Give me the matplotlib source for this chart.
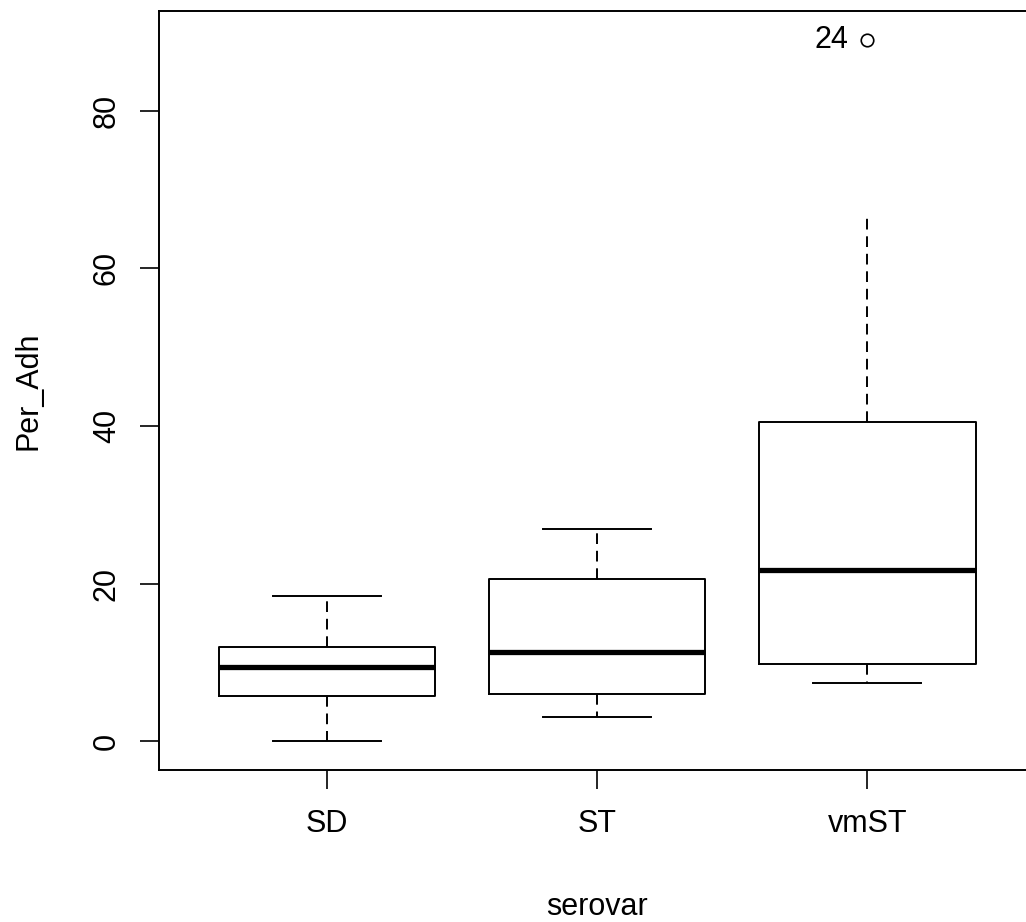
import matplotlib
matplotlib.use('Agg')
import matplotlib.pyplot as plt

plt.rcParams['font.family'] = ['Liberation Sans', 'DejaVu Sans']

# Dane
groups = ['SD', 'ST', 'vmST']
whisker_low = [0.0, 3.15, 7.45]
q1 = [5.7, 6.05, 9.8]
medians = [9.5, 11.3, 21.8]
q3 = [12.0, 20.6, 40.5]
whisker_high = [18.5, 26.9, 67.0]
outliers = [[], [], [89.0]]
outlier_labels = [[], [], ['24']]

stats = []
for i, name in enumerate(groups):
    stats.append(dict(label=name, whislo=whisker_low[i], q1=q1[i], med=medians[i],
                      q3=q3[i], whishi=whisker_high[i], fliers=outliers[i]))

fig = plt.figure(figsize=(10.26, 9.22), dpi=100)
ax = fig.add_axes([0.155, 0.1654, 0.8538, 0.8223])

lw = 1.4
res = ax.bxp(stats, positions=[1, 2, 3], widths=0.8, capwidths=0.4,
             boxprops=dict(color='black', linewidth=lw),
             medianprops=dict(color='black', linewidth=3.8, solid_capstyle='butt'),
             whiskerprops=dict(color='black', linewidth=lw, linestyle=(0, (5.5, 3.5))),
             capprops=dict(color='black', linewidth=lw),
             flierprops=dict(marker='o', markersize=9, markerfacecolor='none',
                             markeredgecolor='black', markeredgewidth=1.2))
# górny wąs vmST bez poprzeczki (jak na oryginale)
res['caps'][5].set_visible(False)

# etykieta obserwacji odstającej
for i, (vals, labs) in enumerate(zip(outliers, outlier_labels)):
    for v, lab in zip(vals, labs):
        ax.annotate(lab, xy=(i + 1, v), xytext=(-14, 0), textcoords='offset points',
                    ha='right', va='center', fontsize=22)

ax.set_xlim(0.38, 3.62)
ax.set_ylim(-3.56, 92.6)
ax.set_yticks([0, 20, 40, 60, 80])
ax.set_xticks([1, 2, 3])
ax.set_xticklabels(groups)

ax.tick_params(axis='both', direction='out', length=13.7, width=1.2, labelsize=22)
ax.tick_params(axis='x', pad=15)
ax.tick_params(axis='y', pad=13, labelrotation=90)
for t in ax.get_yticklabels():
    t.set_va('center')

for s in ax.spines.values():
    s.set_linewidth(lw)

ax.set_xlabel('serovar', fontsize=22)
ax.xaxis.set_label_coords(0.5, -0.192)
ax.xaxis.label.set_va('baseline')
ax.set_ylabel('Per_Adh', fontsize=22)
ax.yaxis.set_label_coords(-0.1404, 0.5)
ax.yaxis.label.set_va('baseline')

plt.savefig('out.png', dpi=100)
